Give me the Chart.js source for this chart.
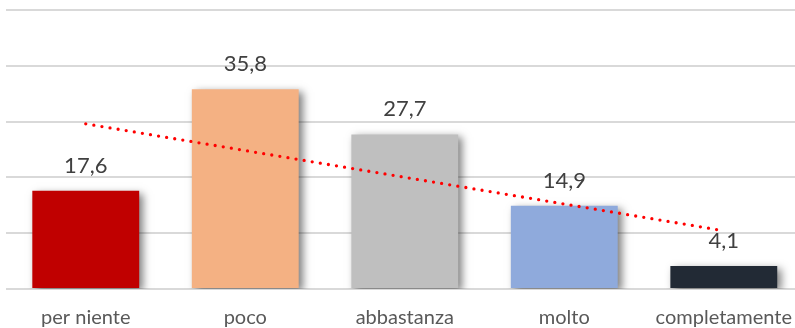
<!DOCTYPE html>
<html>
<head>
<meta charset="utf-8">
<script src="https://cdn.jsdelivr.net/npm/chart.js@4/dist/chart.umd.min.js"></script>
<style>
  html, body { margin: 0; padding: 0; background: #fff; overflow: hidden; }
  #wrap { width: 809px; height: 328px; position: relative; }
</style>
</head>
<body>
<div id="wrap"><canvas id="c"></canvas></div>
<script>
// Categories and percentages
const categories = ['per niente', 'poco', 'abbastanza', 'molto', 'completamente'];
const values = [17.6, 35.8, 27.7, 14.9, 4.1];
const barColors = ['#C00000', '#F4B183', '#BFBFBF', '#8FAADC', '#222A35'];
const yTicks = [0, 10, 20, 30, 40, 50];

// Linear trend (least squares) over the category positions
function linearTrend(ys) {
  const n = ys.length;
  const xs = ys.map((_, i) => i + 1);
  const mx = xs.reduce((a, b) => a + b, 0) / n;
  const my = ys.reduce((a, b) => a + b, 0) / n;
  let sxy = 0, sxx = 0;
  xs.forEach((x, i) => { sxy += (x - mx) * (ys[i] - my); sxx += (x - mx) * (x - mx); });
  const slope = sxy / sxx;
  return xs.map(x => my + slope * (x - mx));
}
const trend = linearTrend(values);

const fmt = v => v.toFixed(1).replace('.', ',');

// Soft drop shadow behind the bars
const barShadow = {
  id: 'barShadow',
  beforeDatasetDraw(chart, args) {
    if (args.meta.type !== 'bar') return;
    const ctx = chart.ctx;
    ctx.save();
    ctx.shadowColor = 'rgba(0,0,0,0.5)';
    ctx.shadowBlur = 8;
    ctx.shadowOffsetX = 4;
    ctx.shadowOffsetY = 3;
  },
  afterDatasetDraw(chart, args) {
    if (args.meta.type !== 'bar') return;
    chart.ctx.restore();
  }
};

// Value labels above each bar
const valueLabels = {
  id: 'valueLabels',
  afterDatasetsDraw(chart) {
    const meta = chart.getDatasetMeta(1);
    const ctx = chart.ctx;
    ctx.save();
    ctx.font = '22px Lato, "Open Sans", sans-serif';
    ctx.fillStyle = '#404040';
    ctx.textAlign = 'center';
    ctx.textBaseline = 'alphabetic';
    meta.data.forEach((bar, i) => {
      ctx.fillText(fmt(values[i]), bar.x, bar.y - 18);
    });
    ctx.restore();
  }
};

new Chart(document.getElementById('c'), {
  data: {
    labels: categories,
    datasets: [
      {
        type: 'line',
        data: trend,
        borderColor: '#FF0000',
        borderWidth: 3.3,
        borderDash: [0, 8.2],
        borderCapStyle: 'round',
        pointRadius: 0,
        fill: false,
        tension: 0,
        order: 0
      },
      {
        type: 'bar',
        data: values,
        backgroundColor: barColors,
        barPercentage: 0.67,
        categoryPercentage: 1,
        order: 1
      }
    ]
  },
  options: {
    responsive: true,
    maintainAspectRatio: false,
    animation: false,
    events: [],
    layout: { padding: { left: 6, top: 10, right: 0, bottom: 0 } },
    plugins: { legend: { display: false }, tooltip: { enabled: false } },
    scales: {
      x: {
        grid: { display: false, drawTicks: false },
        border: { display: false },
        afterFit(scale) { scale.height = 39; },
        ticks: {
          color: '#595959',
          font: { family: 'Lato, "Open Sans", sans-serif', size: 20 },
          padding: 17,
          maxRotation: 0,
          autoSkip: false
        }
      },
      y: {
        min: 0,
        max: 50,
        afterBuildTicks(scale) { scale.ticks = yTicks.map(v => ({ value: v })); },
        grid: { color: '#D9D9D9', lineWidth: 2, drawTicks: false },
        border: { display: false },
        ticks: { display: false }
      }
    }
  },
  plugins: [barShadow, valueLabels]
});
</script>
</body>
</html>
